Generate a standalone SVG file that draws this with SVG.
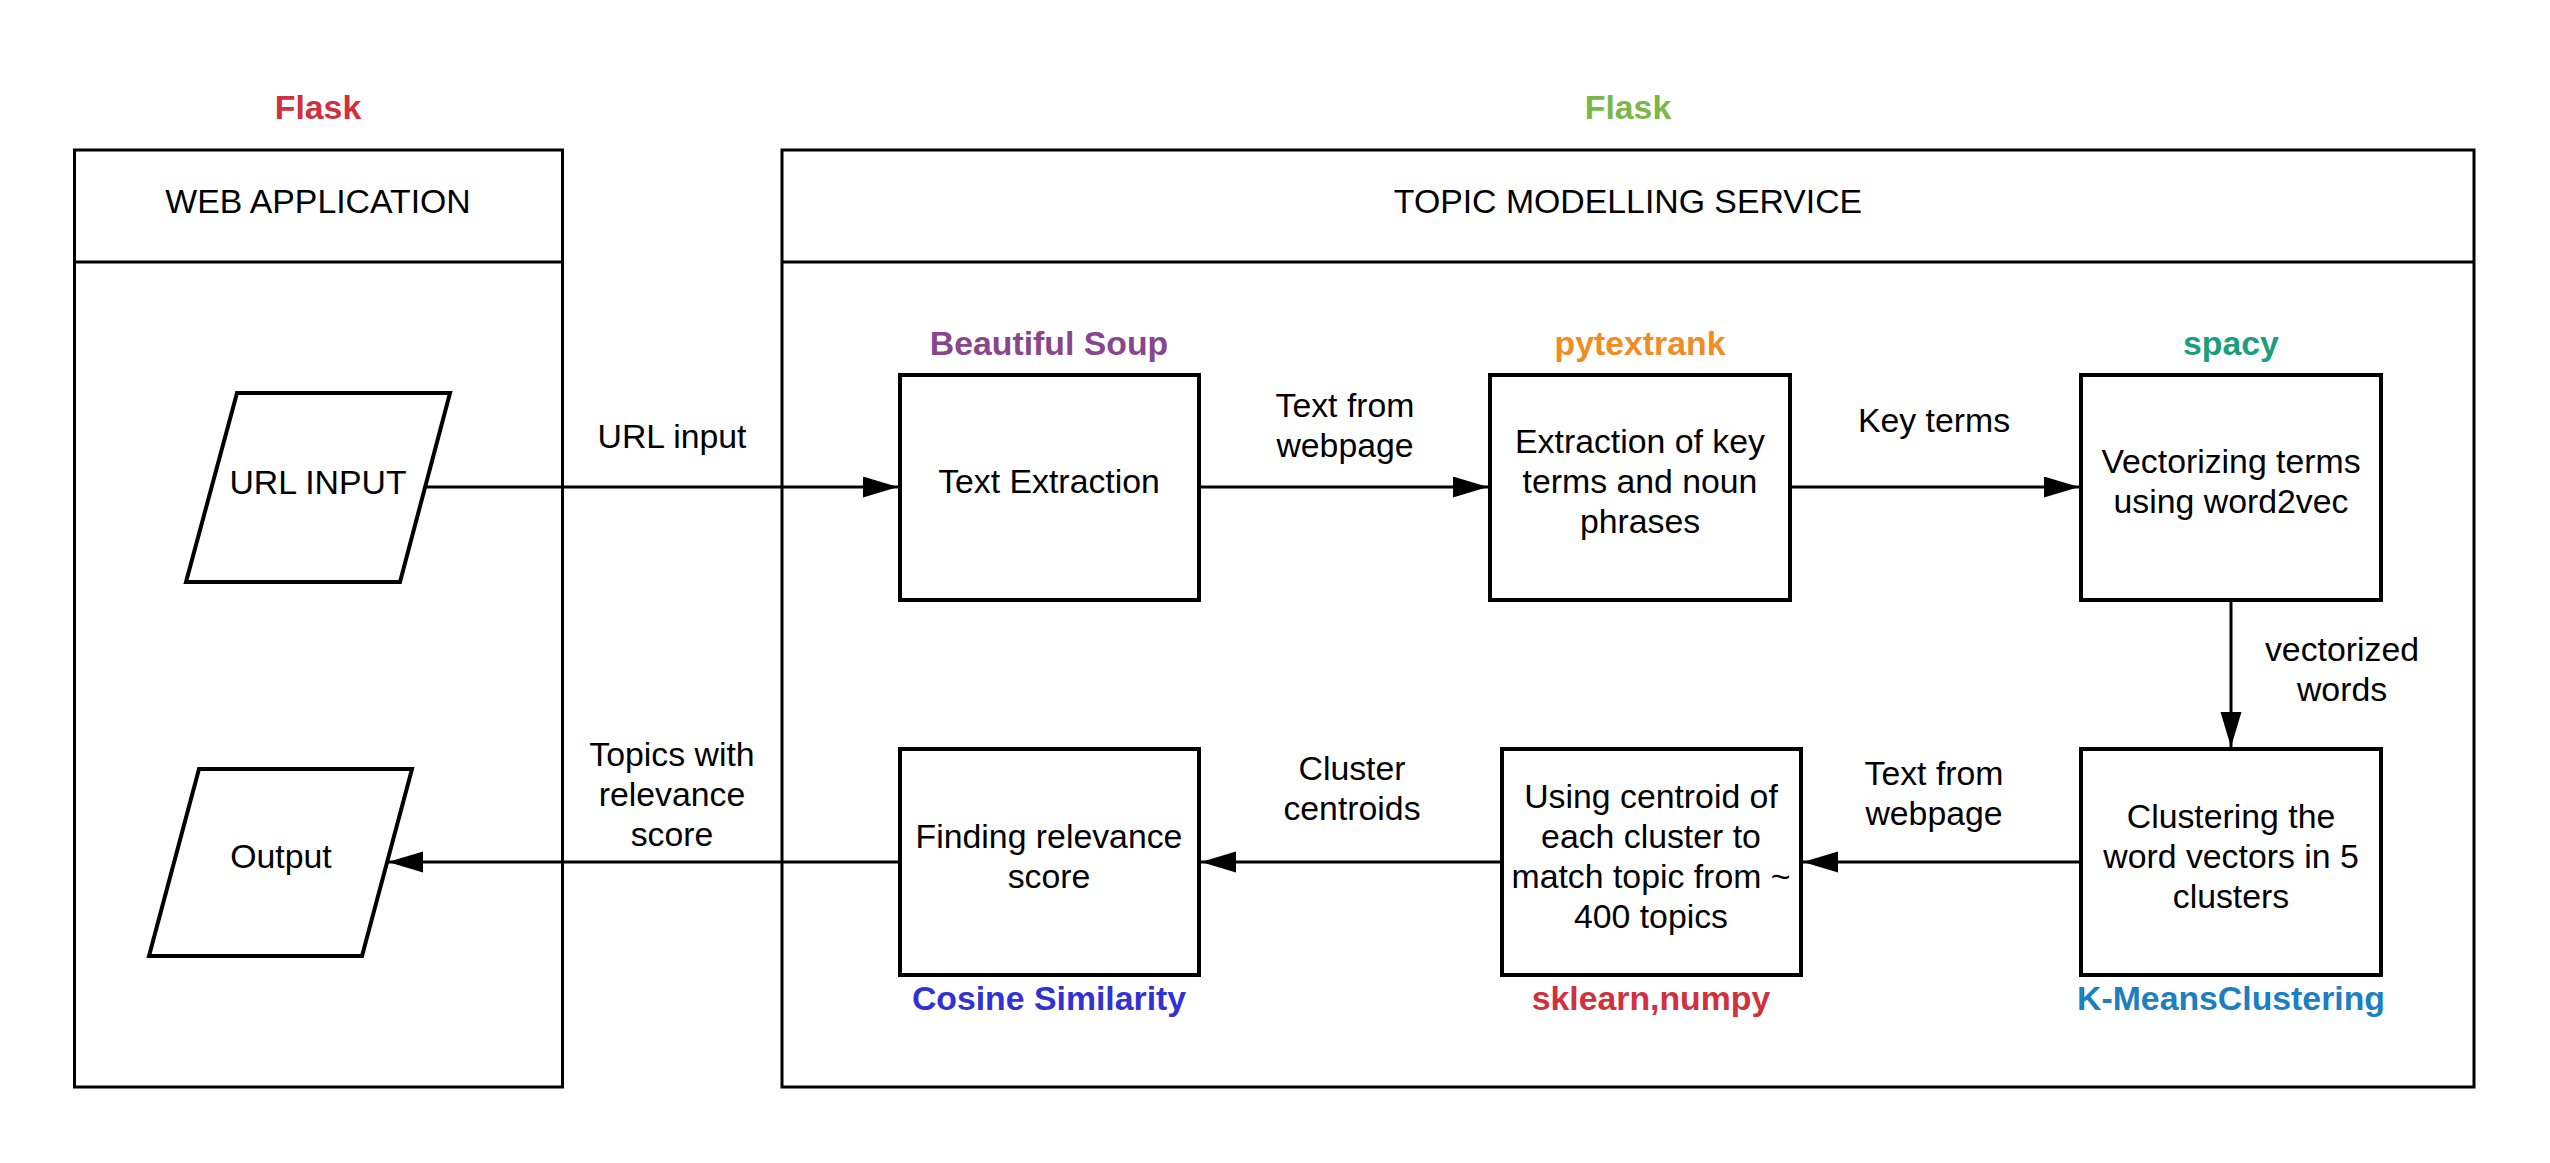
<svg xmlns="http://www.w3.org/2000/svg" width="2550" height="1163" viewBox="0 0 2550 1163">
<defs>
<marker id="arr" markerUnits="userSpaceOnUse" markerWidth="36" markerHeight="22" refX="35" refY="10.5" orient="auto">
<path d="M0,0 L35,10.5 L0,21 Z" fill="#000"/>
</marker>
<style>
.cont{fill:#fff;stroke:#000;stroke-width:3}
.box{fill:#fff;stroke:#000;stroke-width:4}
.conn{fill:none;stroke:#000;stroke-width:3;marker-end:url(#arr)}
text{font-family:"Liberation Sans",Arial,sans-serif;font-size:33.8px;text-anchor:middle;fill:#000}
.b{font-weight:bold}
</style>
</defs>
<rect width="2550" height="1163" fill="#fff"/>

<g id="web-application">
<rect class="cont" x="74.5" y="150" width="488" height="937"/>
<line x1="74.5" y1="262" x2="562.5" y2="262" stroke="#000" stroke-width="3"/>
<text x="318" y="213">WEB APPLICATION</text>
<text class="b" x="318" y="119" style="fill:#D0313E">Flask</text>
</g>

<g id="topic-modelling-service">
<rect class="cont" x="782" y="150" width="1692" height="937"/>
<line x1="782" y1="262" x2="2474" y2="262" stroke="#000" stroke-width="3"/>
<text x="1628" y="213">TOPIC MODELLING SERVICE</text>
<text class="b" x="1628" y="119" style="fill:#7AB648">Flask</text>
</g>

<g id="connectors">
<line class="conn" x1="425" y1="487" x2="898" y2="487"/>
<line class="conn" x1="1199" y1="487" x2="1488" y2="487"/>
<line class="conn" x1="1790" y1="487" x2="2079" y2="487"/>
<line class="conn" x1="2231" y1="600" x2="2231" y2="747"/>
<line class="conn" x1="2081" y1="862" x2="1803" y2="862"/>
<line class="conn" x1="1502" y1="862" x2="1201" y2="862"/>
<line class="conn" x1="900" y1="862" x2="388" y2="862"/>
<text x="672" y="448">URL input</text>
<text x="1345" y="417">Text from</text>
<text x="1345" y="457">webpage</text>
<text x="1934" y="432">Key terms</text>
<text x="2342" y="661">vectorized</text>
<text x="2342" y="701">words</text>
<text x="1934" y="785">Text from</text>
<text x="1934" y="825">webpage</text>
<text x="1352" y="780">Cluster</text>
<text x="1352" y="820">centroids</text>
<text x="672" y="766">Topics with</text>
<text x="672" y="806">relevance</text>
<text x="672" y="846">score</text>
</g>

<g id="url-input">
<polygon class="box" points="237,393 450,393 400,582 186,582"/>
<text x="318" y="494">URL INPUT</text>
</g>

<g id="output">
<polygon class="box" points="199,769 412,769 362,956 149,956"/>
<text x="281" y="868">Output</text>
</g>

<g id="text-extraction">
<rect class="box" x="900" y="375" width="299" height="225"/>
<text x="1049" y="493">Text Extraction</text>
<text class="b" x="1049" y="355" style="fill:#88468D">Beautiful Soup</text>
</g>

<g id="key-term-extraction">
<rect class="box" x="1490" y="375" width="300" height="225"/>
<text x="1640" y="453">Extraction of key</text>
<text x="1640" y="493">terms and noun</text>
<text x="1640" y="533">phrases</text>
<text class="b" x="1640" y="355" style="fill:#F08C24">pytextrank</text>
</g>

<g id="vectorizing">
<rect class="box" x="2081" y="375" width="300" height="225"/>
<text x="2231" y="473">Vectorizing terms</text>
<text x="2231" y="513">using word2vec</text>
<text class="b" x="2231" y="355" style="fill:#1B9D80">spacy</text>
</g>

<g id="clustering">
<rect class="box" x="2081" y="749" width="300" height="226"/>
<text x="2231" y="828">Clustering the</text>
<text x="2231" y="868">word vectors in 5</text>
<text x="2231" y="908">clusters</text>
<text class="b" x="2231" y="1010" style="fill:#1B7FC2">K-MeansClustering</text>
</g>

<g id="topic-matching">
<rect class="box" x="1502" y="749" width="299" height="226"/>
<text x="1651" y="808">Using centroid of</text>
<text x="1651" y="848">each cluster to</text>
<text x="1651" y="888">match topic from ~</text>
<text x="1651" y="928">400 topics</text>
<text class="b" x="1651" y="1010" style="fill:#D0313E">sklearn,numpy</text>
</g>

<g id="relevance-score">
<rect class="box" x="900" y="749" width="299" height="226"/>
<text x="1049" y="848">Finding relevance</text>
<text x="1049" y="888">score</text>
<text class="b" x="1049" y="1010" style="fill:#3232D4">Cosine Similarity</text>
</g>
</svg>
